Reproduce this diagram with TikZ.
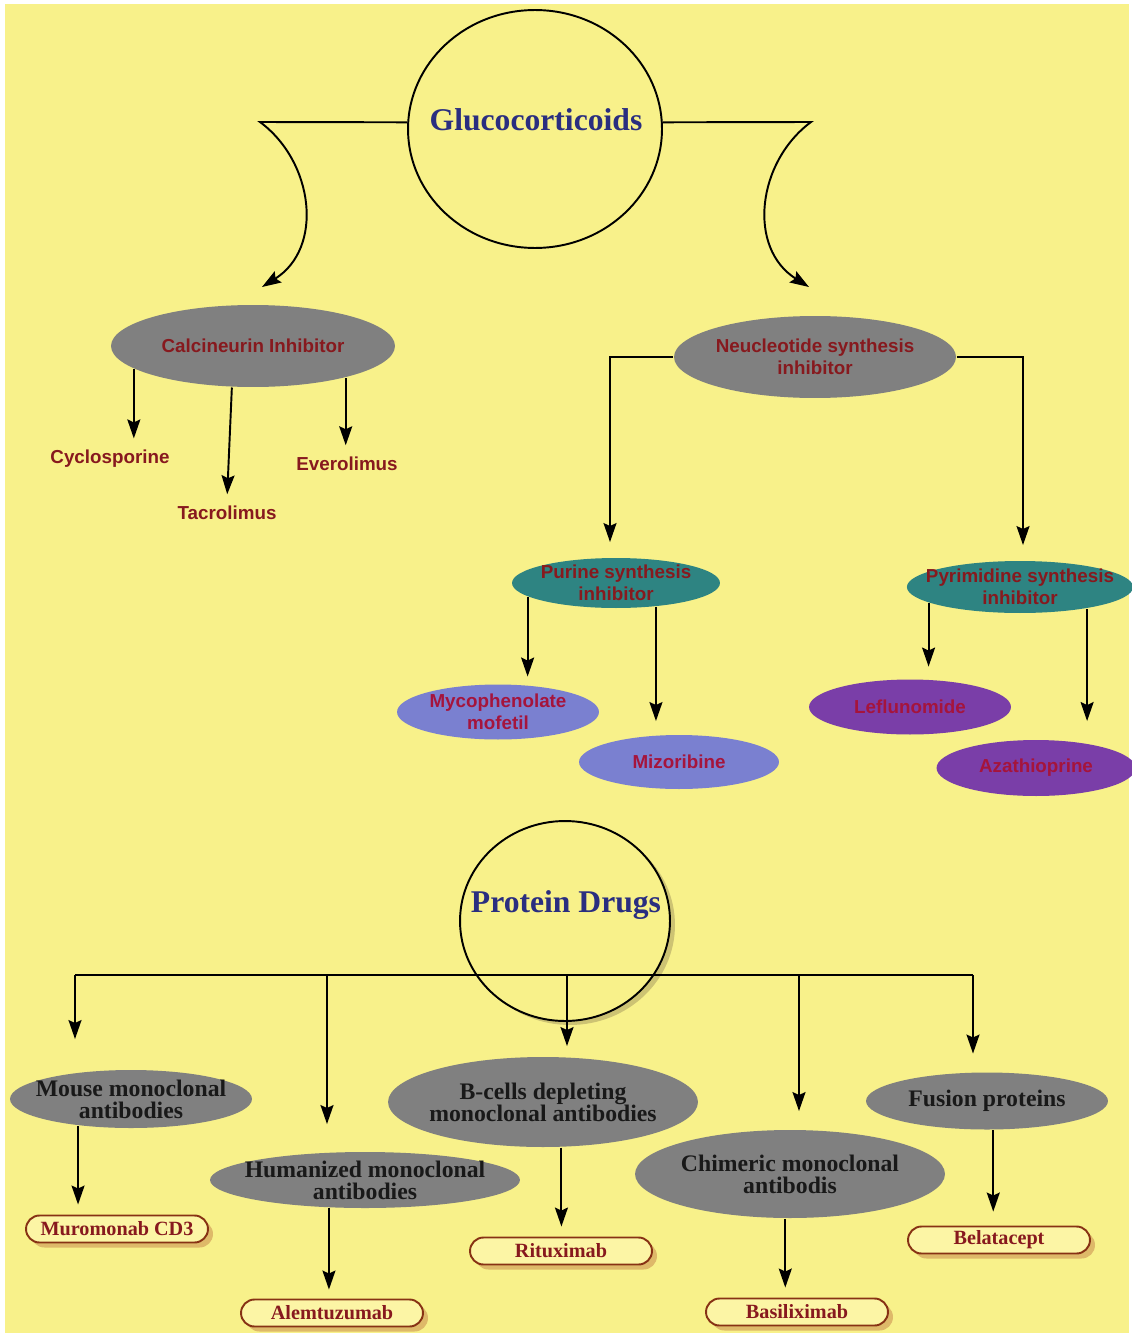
\documentclass[tikz,border=0pt]{standalone}
\usepackage{fontspec}
\setmainfont{Liberation Serif}
\setsansfont{Liberation Sans}
\usetikzlibrary{arrows.meta,shapes.geometric,shadows}
\definecolor{bgyellow}{RGB}{248,241,138}
\definecolor{midgray}{RGB}{128,128,128}
\definecolor{brick}{RGB}{135,25,30}
\definecolor{tealblob}{RGB}{46,132,130}
\definecolor{lavblob}{RGB}{122,128,208}
\definecolor{plumblob}{RGB}{122,62,168}
\definecolor{berry}{RGB}{165,20,60}
\definecolor{headblue}{RGB}{42,46,128}
\definecolor{rust}{RGB}{135,50,20}
\definecolor{pale}{RGB}{252,245,165}
\definecolor{shadowtan}{RGB}{222,185,105}
\definecolor{circshade}{RGB}{205,195,115}

\begin{document}
\begin{tikzpicture}[x=0.02cm, y=-0.02cm, line width=1.1pt, -{Stealth[length=3.8mm,width=2.6mm,inset=0.6mm]},
	ring/.style={ellipse, draw, inner sep=0pt},
	head/.style={font=\fontsize{18}{20}\selectfont\bfseries, text=headblue},
	blob/.style={ellipse, inner sep=-8pt, align=center, font=\fontsize{10.7}{12.5}\selectfont\sffamily\bfseries},
	leaf/.style={font=\fontsize{10.7}{12.5}\selectfont\sffamily\bfseries, text=brick},
	mab/.style={ellipse, fill=midgray, inner sep=-8pt, align=center, font=\fontsize{13.5}{12.5}\selectfont\bfseries, text=black!90},
	pill/.style={draw=rust, fill=pale, rounded corners=0.27cm, minimum width=3.64cm, minimum height=0.54cm, inner sep=0pt,
		font=\fontsize{11.5}{12}\selectfont\bfseries, text=brick,
		drop shadow={shadow xshift=0.1cm, shadow yshift=-0.1cm, fill=shadowtan, opacity=1}}]
	\useasboundingbox (0,0) rectangle (1132,1335);
	\fill[white] (0,0) rectangle (1132,1335);
	\fill[bgyellow] (5,4) rectangle (1129,1333);
	% first chart
	\node[ring, minimum width=5.08cm, minimum height=4.76cm] (gluc) at (535,129) {};
	\node[head] (gluc-t) at (536,120) {Glucocorticoids};
	\node[blob, fill=midgray, text=brick, minimum width=5.68cm, minimum height=1.64cm] (calc) at (253,346) {Calcineurin Inhibitor};
	\node[leaf] (cyc) at (110,459) {Cyclosporine};
	\node[leaf] (tac) at (227,513) {Tacrolimus};
	\node[leaf] (evr) at (347,464) {Everolimus};
	\node[blob, fill=midgray, text=brick, minimum width=5.64cm, minimum height=1.64cm] (nuc) at (815,357) {Neucleotide synthesis\\inhibitor};
	\node[blob, fill=tealblob, text=brick, minimum width=4.16cm, minimum height=1cm] (pur) at (616,583) {Purine synthesis\\inhibitor};
	\node[blob, fill=tealblob, text=brick, minimum width=4.2cm, minimum height=1.04cm] (pyr) at (1020,587) {Pyrimidine synthesis\\inhibitor};
	\node[blob, fill=lavblob, text=berry, minimum width=4.04cm, minimum height=1.1cm] (myc) at (498,712) {Mycophenolate\\mofetil};
	\node[blob, fill=lavblob, text=berry, minimum width=4cm, minimum height=1.08cm] (miz) at (679,762) {Mizoribine};
	\node[blob, fill=plumblob, text=berry, minimum width=4.04cm, minimum height=1.1cm] (lef) at (910,707) {Leflunomide};
	\node[blob, fill=plumblob, text=berry, minimum width=3.98cm, minimum height=1.12cm] (aza) at (1036,768) {Azathioprine};
	\coordinate (tip-l) at (262,287);
	\coordinate (tip-r) at (809,287);
	\draw (gluc.177) -- (260,122) .. controls (314,162) and (324,248) .. (tip-l);
	\draw (gluc.3) -- (811,122) .. controls (757,162) and (747,248) .. (tip-r);
	\draw[shorten >=1mm] (calc.191) -- (calc.191 |- cyc.north);
	\draw[shorten >=1mm] (calc.243) -- (tac.north);
	\draw[shorten >=1mm] (calc.341) -- (calc.341 |- evr.north);
	\draw[shorten >=0.3cm] (nuc.west) -| ([xshift=-0.12cm]pur.north);
	\draw[shorten >=0.3cm] (nuc.east) -| ([xshift=0.06cm]pyr.north);
	\draw[shorten >=0.14cm] (pur.189) -- (pur.189 |- myc.north);
	\draw[shorten >=0.26cm] (pur.329) -- (pur.329 |- miz.north);
	\draw[shorten >=0.24cm] (pyr.190) -- (pyr.190 |- lef.north);
	\draw[shorten >=0.36cm] (pyr.342) -- (pyr.342 |- aza.north);
	% second chart
	\node[ring, fill=bgyellow, minimum width=4.2cm, minimum height=4cm,
		drop shadow={shadow xshift=0.1cm, shadow yshift=-0.08cm, fill=circshade, opacity=1}] (prot) at (565,921) {};
	\node[head] (prot-t) at (566,905) {Protein Drugs};
	\node[mab, minimum width=4.84cm, minimum height=1.16cm] (mouse) at (131,1099) {Mouse monoclonal\\antibodies};
	\node[mab, minimum width=6.2cm, minimum height=1.12cm] (hum) at (365,1180) {Humanized monoclonal\\antibodies};
	\node[mab, minimum width=6.2cm, minimum height=1.8cm] (bcell) at (543,1102) {B-cells depleting\\monoclonal antibodies};
	\node[mab, minimum width=6.2cm, minimum height=1.76cm] (chim) at (790,1174) {Chimeric monoclonal\\antibodis};
	\node[mab, minimum width=4.84cm, minimum height=1.14cm] (fus) at (987,1101) {Fusion proteins};
	\node[pill] (muro) at (117,1229) {Muromonab CD3};
	\node[pill] (alem) at (332,1313) {Alemtuzumab};
	\node[pill] (ritu) at (561,1251) {Rituximab};
	\node[pill] (basi) at (797,1312) {Basiliximab};
	\node[pill] (bela) at (999,1240) {Belatacept};
	\coordinate (d1) at (75,975);
	\coordinate (d2) at (327,975);
	\coordinate (d3) at (567,975);
	\coordinate (d4) at (799,975);
	\coordinate (d5) at (973,975);
	\draw[-] (d1) -- (d5);
	\draw[shorten >=0.6cm] (d1) -- (d1 |- mouse.north);
	\draw[shorten >=0.54cm] (d2) -- (d2 |- hum.north);
	\draw[shorten >=0.2cm] (d3) -- (d3 |- bcell.north);
	\draw[shorten >=0.36cm] (d4) -- (d4 |- chim.north);
	\draw[shorten >=0.36cm] (d5) -- (d5 |- fus.north);
	\draw[shorten >=0.2cm] (mouse.207) -- (mouse.207 |- muro.north);
	\draw[shorten >=0.18cm] (hum.218) -- (hum.218 |- alem.north);
	\draw[shorten >=0.2cm] (bcell.292) -- (bcell.292 |- ritu.north);
	\draw[shorten >=0.2cm] (chim.264) -- (chim.264 |- basi.north);
	\draw[shorten >=0.28cm] (fus.282) -- (fus.282 |- bela.north);
\end{tikzpicture}
\end{document}
